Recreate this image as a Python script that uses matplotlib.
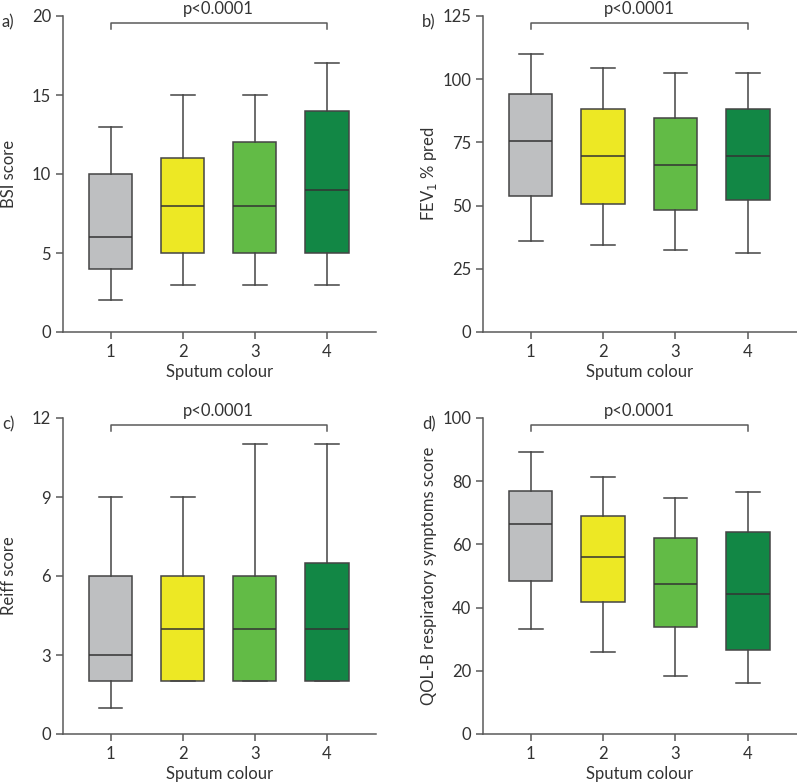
import matplotlib
matplotlib.use("Agg")
import matplotlib.pyplot as plt

plt.rcParams['font.family'] = ['Lato', 'DejaVu Sans']

categories = ["1", "2", "3", "4"]
colors = ["#BEBFC1", "#EDE824", "#62BB46", "#128745"]

# each stat: whisker low, q1, median, q3, whisker high
bsi_low = [2, 3, 3, 3]
bsi_q1 = [4, 5, 5, 5]
bsi_med = [6, 8, 8, 9]
bsi_q3 = [10, 11, 12, 14]
bsi_high = [13, 15, 15, 17]

fev_low = [35.9, 34.3, 32.5, 31.2]
fev_q1 = [53.9, 50.7, 48.4, 52.3]
fev_med = [75.6, 69.8, 66.0, 69.8]
fev_q3 = [94.0, 88.4, 84.6, 88.4]
fev_high = [110.1, 104.3, 102.3, 102.3]

reiff_low = [1, 2, 2, 2]
reiff_q1 = [2, 2, 2, 2]
reiff_med = [3, 4, 4, 4]
reiff_q3 = [6, 6, 6, 6.5]
reiff_high = [9, 9, 11, 11]

qol_low = [33.1, 25.9, 18.5, 16.1]
qol_q1 = [48.4, 41.8, 33.9, 26.7]
qol_med = [66.5, 55.9, 47.6, 44.4]
qol_q3 = [76.8, 69.0, 62.0, 63.9]
qol_high = [89.2, 81.4, 74.7, 76.5]

panels = [
    ("a)", "BSI score", (bsi_low, bsi_q1, bsi_med, bsi_q3, bsi_high), 20, [0, 5, 10, 15, 20]),
    ("b)", "FEV$_1$ % pred", (fev_low, fev_q1, fev_med, fev_q3, fev_high), 125, [0, 25, 50, 75, 100, 125]),
    ("c)", "Reiff score", (reiff_low, reiff_q1, reiff_med, reiff_q3, reiff_high), 12, [0, 3, 6, 9, 12]),
    ("d)", "QOL-B respiratory symptoms score", (qol_low, qol_q1, qol_med, qol_q3, qol_high), 100, [0, 20, 40, 60, 80, 100]),
]
p_text = "p<0.0001"

W, H = 797, 783
fig = plt.figure(figsize=(W / 100, H / 100), dpi=100)

boxes_px = [(63, 16, 376, 332), (483, 16, 797, 332), (63, 418, 376, 734), (483, 418, 797, 734)]
label_x_px = [2, 422, 2, 422]
text_col = "#333333"
axis_col = "#5a5a5a"
edge_col = "#444444"

for (lab, ylab, stats, ymax, yticks), (l, t, r, b), lx in zip(panels, boxes_px, label_x_px):
    ax = fig.add_axes([l / W, 1 - b / H, (r - l) / W, (b - t) / H])
    low, q1, med, q3, high = stats
    bxp = []
    for i in range(4):
        bxp.append(dict(whislo=low[i], q1=q1[i], med=med[i], q3=q3[i], whishi=high[i], label=categories[i]))
    res = ax.bxp(bxp, positions=[1, 2, 3, 4], widths=0.6, patch_artist=True, showfliers=False,
                 boxprops=dict(edgecolor=edge_col, linewidth=1.1),
                 medianprops=dict(color="#333333", linewidth=1.1),
                 whiskerprops=dict(color=edge_col, linewidth=1.1),
                 capprops=dict(color=edge_col, linewidth=1.1), capwidths=0.33)
    for patch, c in zip(res["boxes"], colors):
        patch.set_facecolor(c)
    ax.set_xlim(0.34, 4.68)
    ax.set_ylim(0, ymax)
    ax.set_yticks(yticks)
    ax.set_xticks([1, 2, 3, 4])
    ax.set_xticklabels(categories)
    for s in ["top", "right"]:
        ax.spines[s].set_visible(False)
    for s in ["left", "bottom"]:
        ax.spines[s].set_color(axis_col)
        ax.spines[s].set_linewidth(1.1)
    ax.tick_params(axis="both", colors=axis_col, labelcolor=text_col, labelsize=12, length=5, width=1.1)
    ax.set_xlabel("Sputum colour", fontsize=12, color=text_col, labelpad=3)
    ax.set_ylabel(ylab, fontsize=12, color=text_col)
    ax.yaxis.set_label_coords(-54 / (r - l), 0.5)
    ax.yaxis.label.set_verticalalignment("center")
    # significance bracket
    trans = ax.get_xaxis_transform()
    ax.plot([1, 1, 4, 4], [0.958, 0.979, 0.979, 0.958], transform=trans, color=axis_col,
            linewidth=1.1, clip_on=False)
    ax.text(2.5, 1.022, p_text, transform=trans, ha="center", va="center", fontsize=12, color=text_col)
    fig.text(lx / W, 1 - (t + 6) / H, lab, ha="left", va="center", fontsize=12, color=text_col)

fig.savefig("out.png", dpi=100)
